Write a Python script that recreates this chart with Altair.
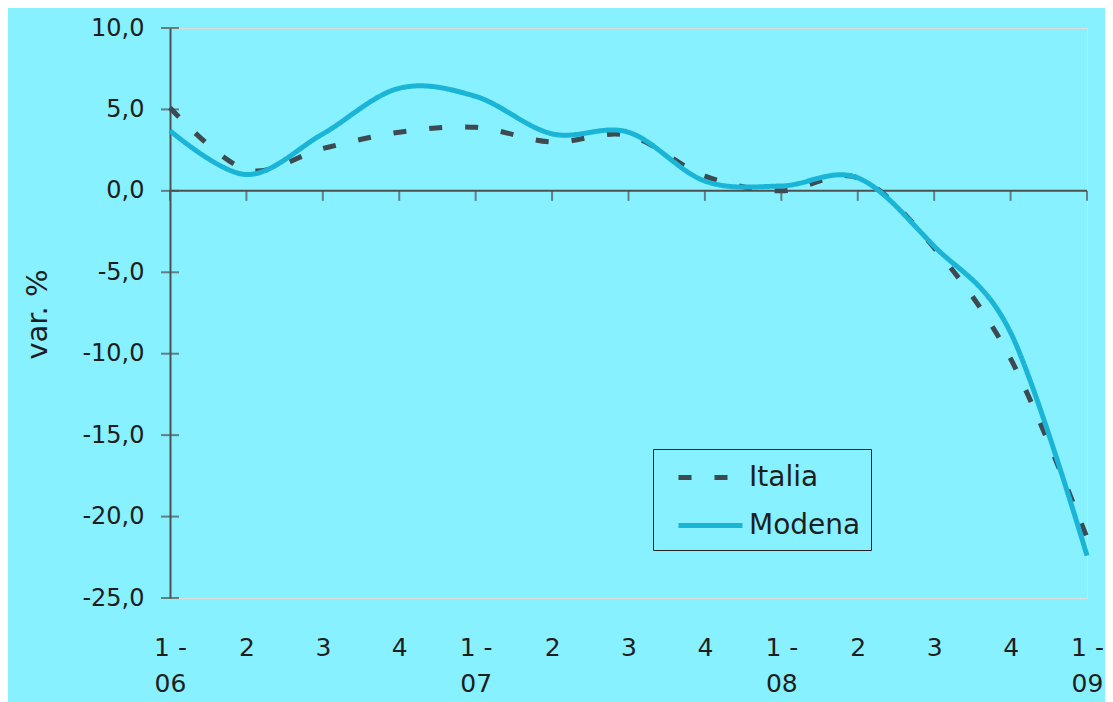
import json
import altair as alt
import pandas as pd

# ---- data ----
quarters = ["1 - 06", "2", "3", "4", "1 - 07", "2", "3", "4",
            "1 - 08", "2", "3", "4", "1 - 09"]
italia = [5.1, 1.3, 2.6, 3.6, 3.9, 3.0, 3.4, 0.9, 0.0, 0.8, -3.5, -10.3, -21.3]
modena = [3.7, 1.0, 3.5, 6.3, 5.8, 3.5, 3.6, 0.6, 0.3, 0.8, -3.4, -8.7, -22.4]
series = ["Italia", "Modena"]
y_ticks = [-25, -20, -15, -10, -5, 0, 5, 10]

BG = "#88f1ff"
AXIS = "#505050"
TXT = "#1e1e1e"
C_ITA = "#3d4a4f"
C_MOD = "#19b4d6"
FONT = "DejaVu Sans"

rows = []
for name, vals in zip(series, [italia, modena]):
    for i, (q, v) in enumerate(zip(quarters, vals)):
        rows.append({"idx": i, "trimestre": q, "serie": name, "valore": v})
df = pd.DataFrame(rows)

label_arrays = [[q.split(" - ")[0] + " -", q.split(" - ")[1]] if " - " in q else [q]
                for q in quarters]
x_label_expr = json.dumps(label_arrays) + "[datum.value]"
y_label_expr = "replace((datum.value < 0 ? '-' : '') + format(abs(datum.value), '.1f'), '.', ',')"

n = len(quarters)
x_scale = alt.Scale(domain=[0, n - 1], nice=False, zero=False, padding=0)
y_scale = alt.Scale(domain=[-25, 10], nice=False, zero=False)

x_axis = alt.Axis(orient="bottom", values=list(range(n)), labelExpr=x_label_expr,
                  domain=False, ticks=False, grid=False, title=None,
                  labelFontSize=25, labelColor=TXT, labelPadding=37,
                  labelLineHeight=36, labelFlush=False, labelOverlap=False,
                  labelFont=FONT, labelBaseline="top")
y_axis = alt.Axis(values=y_ticks, labelExpr=y_label_expr, domain=True,
                  domainColor=AXIS, domainWidth=2, ticks=False, grid=False,
                  labelFontSize=24, labelColor=TXT, labelPadding=26,
                  labelFlush=False, labelOverlap=False, labelFont=FONT,
                  title="var. %", titleFontSize=29, titleFontWeight="normal",
                  titleColor=TXT, titleFont=FONT, titleX=-133, titleY=286,
                  titleAlign="center", titleBaseline="middle", titleAngle=270)

zero_df = pd.DataFrame({"v": [0]})
idx_df = pd.DataFrame({"idx": list(range(n))})
yt_df = pd.DataFrame({"v": y_ticks})

zero_line = alt.Chart(zero_df).mark_rule(color=AXIS, strokeWidth=2).encode(
    x=alt.X(datum=0, scale=x_scale, axis=x_axis),
    x2=alt.X2(datum=n - 1),
    y=alt.Y(datum=0, scale=y_scale, axis=y_axis),
)

x_ticks = alt.Chart(idx_df).mark_tick(orient="vertical", size=10, thickness=2,
                                      yOffset=5, color=AXIS).encode(
    x=alt.X("idx:Q", scale=x_scale, axis=x_axis),
    y=alt.Y(datum=0, scale=y_scale, axis=y_axis),
)

y_tick_marks = alt.Chart(yt_df).mark_tick(orient="horizontal", size=18, thickness=2,
                                          color=AXIS).encode(
    x=alt.X(datum=0, scale=x_scale, axis=x_axis),
    y=alt.Y("v:Q", scale=y_scale, axis=y_axis),
)

legend = alt.Legend(orient="none", legendX=483, legendY=421, title=None,
                    symbolType="M-2,0H2", symbolSize=1024, symbolStrokeWidth=5,
                    labelFontSize=28, labelFont=FONT, labelColor=TXT, labelOffset=20,
                    padding=10, symbolOffset=29, rowPadding=15,
                    strokeColor="#222222", fillColor=BG)

lines = alt.Chart(df).mark_line(interpolate="cardinal", strokeWidth=5).encode(
    x=alt.X("idx:Q", scale=x_scale, axis=x_axis),
    y=alt.Y("valore:Q", scale=y_scale, axis=y_axis),
    color=alt.Color("serie:N", scale=alt.Scale(domain=series, range=[C_ITA, C_MOD]),
                    legend=legend),
    strokeDash=alt.StrokeDash("serie:N",
                              scale=alt.Scale(domain=series, range=[[13, 23], [1, 0]]),
                              legend=legend),
    order=alt.Order("idx:Q"),
)

chart = alt.layer(zero_line, x_ticks, y_tick_marks, lines).properties(
    width=917, height=570,
    autosize=alt.AutoSizeParams(type="none"),
    padding={"left": 162, "top": 20, "right": 18, "bottom": 104},
    background=BG,
).configure_view(strokeWidth=0).configure(font=FONT)

chart.save("out.html", embed_options={"renderer": "svg", "actions": False})
